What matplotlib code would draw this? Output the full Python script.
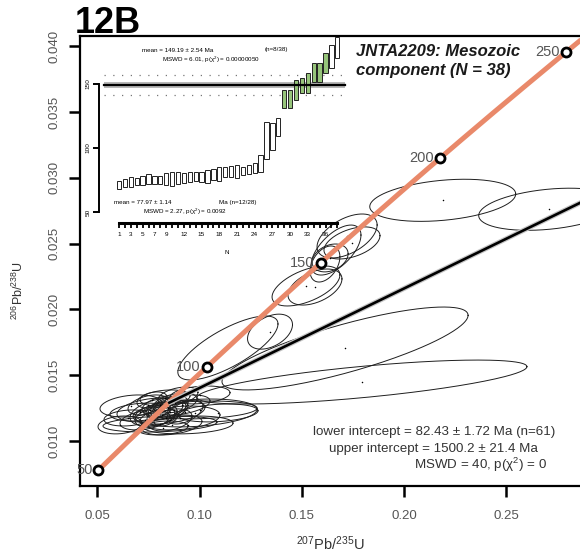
import numpy as np
import matplotlib
matplotlib.use('Agg')
import matplotlib.pyplot as plt
import matplotlib.transforms as mtransforms

plt.rcParams['font.family'] = ['Liberation Sans', 'DejaVu Sans']
plt.rcParams['mathtext.default'] = 'regular'

# ---------------- data ----------------
# U-Pb analyses: 207Pb/235U (2s half-extent), 206Pb/238U (2s half-extent), error correlation
pb207_u235 = [0.2189, 0.2707, 0.1711, 0.1794, 0.1344, 0.1138,
              0.1520, 0.1564, 0.1613, 0.1745, 0.1721, 0.1638, 0.1667,
              0.06639, 0.06492, 0.08058, 0.07568, 0.08547, 0.08058, 0.08156,
              0.08449, 0.08792, 0.07813, 0.09036, 0.09770, 0.10015, 0.08302,
              0.08645, 0.07324, 0.07960, 0.08351, 0.08743, 0.09134, 0.07079,
              0.09428, 0.07666, 0.08938, 0.08204, 0.10895,
              0.07960, 0.08547, 0.07471, 0.09281, 0.06101, 0.10015]
pb207_u235_err = [0.0357, 0.0342, 0.0602, 0.0807, 0.0110, 0.0245,
                  0.0166, 0.0132, 0.0073, 0.0137, 0.0147, 0.0088, 0.0122,
                  0.01517, 0.01174, 0.02789, 0.01614, 0.01712, 0.00881, 0.00734,
                  0.00978, 0.01076, 0.00978, 0.01957, 0.03033, 0.02789, 0.01223,
                  0.01468, 0.01223, 0.00587, 0.00587, 0.00685, 0.01370, 0.01468,
                  0.02202, 0.00734, 0.00978, 0.01223, 0.01957,
                  0.01370, 0.01076, 0.00978, 0.00881, 0.01076, 0.01468]
pb206_u238 = [0.02829, 0.02761, 0.01703, 0.01448, 0.01831, 0.01707,
              0.02178, 0.02170, 0.02345, 0.02505, 0.02558, 0.02391, 0.02451,
              0.01266, 0.01175, 0.01129, 0.01236, 0.01220, 0.01274, 0.01198,
              0.01251, 0.01289, 0.01182, 0.01175, 0.01213, 0.01236, 0.01327,
              0.01122, 0.01160, 0.01236, 0.01175, 0.01236, 0.01274, 0.01220,
              0.01122, 0.01312, 0.01342, 0.01099, 0.01213,
              0.01220, 0.01160, 0.01274, 0.01220, 0.01122, 0.01350]
pb206_u238_err = [0.00160, 0.00160, 0.00315, 0.00167, 0.00133, 0.00243,
                  0.00152, 0.00137, 0.00137, 0.00122, 0.00167, 0.00106, 0.00190,
                  0.00084, 0.00061, 0.00061, 0.00091, 0.00091, 0.00068, 0.00076,
                  0.00091, 0.00076, 0.00076, 0.00091, 0.00106, 0.00068, 0.00061,
                  0.00076, 0.00076, 0.00061, 0.00061, 0.00068, 0.00076, 0.00068,
                  0.00068, 0.00061, 0.00068, 0.00053, 0.00068,
                  0.00106, 0.00084, 0.00076, 0.00091, 0.00068, 0.00068]
rho = [0.3, 0.3, 0.8, 0.7, 0.4, 0.75,
       0.55, 0.45, 0.4, 0.45, 0.5, 0.3, 0.6,
       0.25, 0.2, 0.25, 0.35, 0.4, 0.5, 0.4,
       0.5, 0.4, 0.35, 0.25, 0.25, 0.2, 0.25,
       0.35, 0.35, 0.4, 0.4, 0.5, 0.4, 0.25,
       0.2, 0.35, 0.4, 0.25, 0.25,
       0.4, 0.35, 0.4, 0.5, 0.2, 0.25]

concordia_ages = [50, 100, 150, 200, 250]
lower_intercept_ma = 82.43
upper_intercept_ma = 1500.2

# inset: 2s age bars (Ma), sorted
bar_low = [67.7, 69.8, 69.8, 71.1, 71.1, 71.9, 71.9, 71.9, 71.1, 70.3,
           71.9, 72.4, 73.7, 74.5, 73.7, 72.9, 75.0, 74.5, 77.6, 77.6,
           76.3, 78.9, 79.7, 80.2, 81.5, 91.1, 98.4, 109.4,
           131.0, 131.0, 137.5, 142.7, 142.7, 151.8, 151.8, 158.3,
           162.2, 170.1]
bar_high = [74.5, 75.8, 77.6, 76.8, 78.4, 79.4, 78.4, 78.4, 80.2, 81.5,
            81.5, 80.7, 81.5, 81.5, 81.5, 82.8, 83.3, 84.9, 84.9, 85.9,
            86.7, 84.9, 86.7, 88.0, 94.5, 120.6, 119.3, 123.2,
            145.3, 145.3, 153.1, 154.4, 158.3, 166.1, 166.1, 173.9,
            180.5, 186.5]
bar_selected = [False] * 28 + [True] * 8 + [False] * 2
mean_old, mean_old_err, mean_old_disp = 149.19, 2.54, 7.6
inset_tick_labels = [1, 3, 5, 7, 9, 12, 15, 18, 21, 24, 27, 30, 33, 36]

# ---------------- layout ----------------
W, H = 580, 554
fig = plt.figure(figsize=(W / 100, H / 100), dpi=100)

def fx(px):
    return px / W

def fy(py):
    return 1 - py / H

# main axes pixel mapping
X0PX, XSCALE = 97.5, 2044.0     # 0.05 at 97.5px
Y0PX, YSCALE = 441.0, 13160.0   # 0.010 at 441px
left_px, right_px, top_px, bot_px = 80, 580, 36, 486

ax = fig.add_axes([fx(left_px), fy(bot_px), (right_px - left_px) / W, (bot_px - top_px) / H])
ax.set_xlim(0.05 - (X0PX - left_px) / XSCALE, 0.05 + (right_px - X0PX) / XSCALE)
ax.set_ylim(0.010 - (bot_px - Y0PX) / YSCALE, 0.010 + (Y0PX - top_px) / YSCALE)

for s in ['left', 'top', 'bottom']:
    ax.spines[s].set_linewidth(1.6)
ax.spines['right'].set_visible(False)

xt = [0.05, 0.10, 0.15, 0.20, 0.25]
yt = [0.010, 0.015, 0.020, 0.025, 0.030, 0.035, 0.040]
ax.set_xticks(xt)
ax.set_xticklabels([f'{v:.2f}' for v in xt])
ax.set_yticks(yt)
ax.set_yticklabels([f'{v:.3f}' for v in yt], rotation=90, va='center')
ax.tick_params(direction='out', length=8, width=1.8, color='black',
               labelcolor='#555555', labelsize=9.5)
ax.tick_params(axis='x', pad=9)
ax.tick_params(axis='y', pad=6)

# ellipses
tt = np.linspace(0, 2 * np.pi, 240)
for xi, sxi, yi, syi, ri in zip(pb207_u235, pb207_u235_err, pb206_u238, pb206_u238_err, rho):
    ex = xi + sxi * np.cos(tt)
    ey = yi + syi * (ri * np.cos(tt) + np.sqrt(1 - ri ** 2) * np.sin(tt))
    ax.plot(ex, ey, color='#1e1e1e', lw=0.7, zorder=2)
ax.scatter(pb207_u235, pb206_u238, s=1.2, color='black', zorder=2, linewidths=0)

# concordia
L238, L235 = 1.55125e-10, 9.8485e-10
ages = np.linspace(50, 262, 500) * 1e6
ax.plot(np.exp(L235 * ages) - 1, np.exp(L238 * ages) - 1, color='#E9896A', lw=3.6,
        zorder=3, solid_capstyle='butt')
ca = np.array(concordia_ages) * 1e6
cxs, cys = np.exp(L235 * ca) - 1, np.exp(L238 * ca) - 1
ax.plot(cxs, cys, 'o', ms=6.5, mfc='white', mec='black', mew=2.0, zorder=6)
off = mtransforms.offset_copy(ax.transData, fig=fig, x=-6, y=0, units='dots')
for a, xx, yy in zip(concordia_ages, cxs, cys):
    t = ax.text(xx, yy, str(a), transform=off, ha='right', va='center', fontsize=10.5,
                color='#555555', zorder=5)
    t.set_clip_path(ax.patch)

# discordia
tl, tu = lower_intercept_ma * 1e6, upper_intercept_ma * 1e6
xl, yl = np.exp(L235 * tl) - 1, np.exp(L238 * tl) - 1
xu, yu = np.exp(L235 * tu) - 1, np.exp(L238 * tu) - 1
slope = (yu - yl) / (xu - xl)
dx = np.array([xl, 0.32])
ax.plot(dx, yl + slope * (dx - xl), color='#c4c4c4', lw=3.6, zorder=4, solid_capstyle='butt')
ax.plot(dx, yl + slope * (dx - xl), color='black', lw=1.9, zorder=4, solid_capstyle='butt')

# texts
fig.text(fx(75), fy(33), '12B', fontsize=26, fontweight='bold', ha='left', va='baseline')
fig.text(fx(356), fy(56.5), 'JNTA2209: Mesozoic', fontsize=12, fontweight='bold',
         fontstyle='italic', ha='left', va='baseline', color='#1a1a1a')
fig.text(fx(356), fy(74.5), 'component (N = 38)', fontsize=12, fontweight='bold',
         fontstyle='italic', ha='left', va='baseline', color='#1a1a1a')
fig.text(fx(434), fy(431.5), 'lower intercept = 82.43 ± 1.72 Ma (n=61)', fontsize=9.6,
         color='#333333', ha='center', va='center')
fig.text(fx(433.5), fy(449), 'upper intercept = 1500.2 ± 21.4 Ma', fontsize=9.6,
         color='#333333', ha='center', va='center')
fig.text(fx(547), fy(465), r'MSWD = 40, p($\chi^2$) = 0', fontsize=9.6,
         color='#333333', ha='right', va='center')
fig.text(fx(330), fy(544), r'$^{207}$Pb/$^{235}$U', fontsize=10.5, color='#333333',
         ha='center', va='center')
fig.text(fx(18), fy(290), r'$^{206}$Pb/$^{238}$U', fontsize=9, color='#333333',
         ha='center', va='center', rotation=90)

# ---------------- inset ----------------
IX0, IXS = 119.0, 5.9      # index 1 at 119px
IY0, IYS = 84.0, 1.28      # 150 Ma at 84px

def inset_x(px):
    return 1 + (px - IX0) / IXS

def inset_y(py):
    return 150 - (py - IY0) / IYS

il, ir, itp, ib = 84, 352, 30, 262
ax2 = fig.add_axes([fx(il), fy(ib), (ir - il) / W, (ib - itp) / H])
ax2.set_xlim(inset_x(il), inset_x(ir))
ax2.set_ylim(inset_y(ib), inset_y(itp))
ax2.patch.set_visible(False)
ax2.spines['top'].set_visible(False)
ax2.spines['right'].set_visible(False)
ax2.spines['left'].set_position(('data', inset_x(99.3)))
ax2.spines['left'].set_bounds(50, 150)
ax2.spines['left'].set_linewidth(1.4)
ax2.spines['bottom'].set_position(('data', inset_y(223)))
ax2.spines['bottom'].set_bounds(1, 38)
ax2.spines['bottom'].set_linewidth(2.2)
ax2.set_yticks([50, 100, 150])
ax2.set_yticklabels(['50', '100', '150'], rotation=90, va='center')
idx = np.arange(1, len(bar_low) + 1)
ax2.set_xticks(idx)
ax2.set_xticklabels([str(i) if i in inset_tick_labels else '' for i in idx])
ax2.tick_params(axis='y', length=4, width=1.4, pad=2, labelsize=4.6)
ax2.tick_params(axis='x', length=3.5, width=1.3, pad=3, labelsize=4.6)

lo = np.array(bar_low)
hi = np.array(bar_high)
cols = ['#96C47A' if s else 'white' for s in bar_selected]
ax2.bar(idx, hi - lo, bottom=lo, width=0.72, color=cols, edgecolor='#222222',
        linewidth=0.7, zorder=2)

mx = [inset_x(104), inset_x(345)]
ax2.fill_between(mx, mean_old - mean_old_err, mean_old + mean_old_err, color='#b8b8b8',
                 zorder=1, linewidth=0)
ax2.plot(mx, [mean_old, mean_old], color='black', lw=1.6, zorder=3)
for v in (mean_old - mean_old_disp, mean_old + mean_old_disp):
    ax2.plot(mx, [v, v], color='#777777', lw=0.9, ls=(0, (1, 6)), zorder=1)

ifs = 4.5
fig.text(fx(142), fy(50), 'mean = 149.19 ± 2.54 Ma', fontsize=ifs, ha='left', va='center')
fig.text(fx(265), fy(50), '(n=8/38)', fontsize=ifs, ha='left', va='center')
fig.text(fx(162), fy(59.5), r'MSWD = 6.01, p($\chi^2$) = 0.00000050', fontsize=ifs,
         ha='left', va='center')
fig.text(fx(114), fy(202.5), 'mean = 77.97 ± 1.14', fontsize=ifs, ha='left', va='center')
fig.text(fx(219), fy(202.5), 'Ma (n=12/28)', fontsize=ifs, ha='left', va='center')
fig.text(fx(143), fy(211.5), r'MSWD = 2.27, p($\chi^2$) = 0.0092', fontsize=ifs,
         ha='left', va='center')
fig.text(fx(227), fy(253), 'N', fontsize=ifs, ha='center', va='center')

fig.savefig('out.png', dpi=100)
